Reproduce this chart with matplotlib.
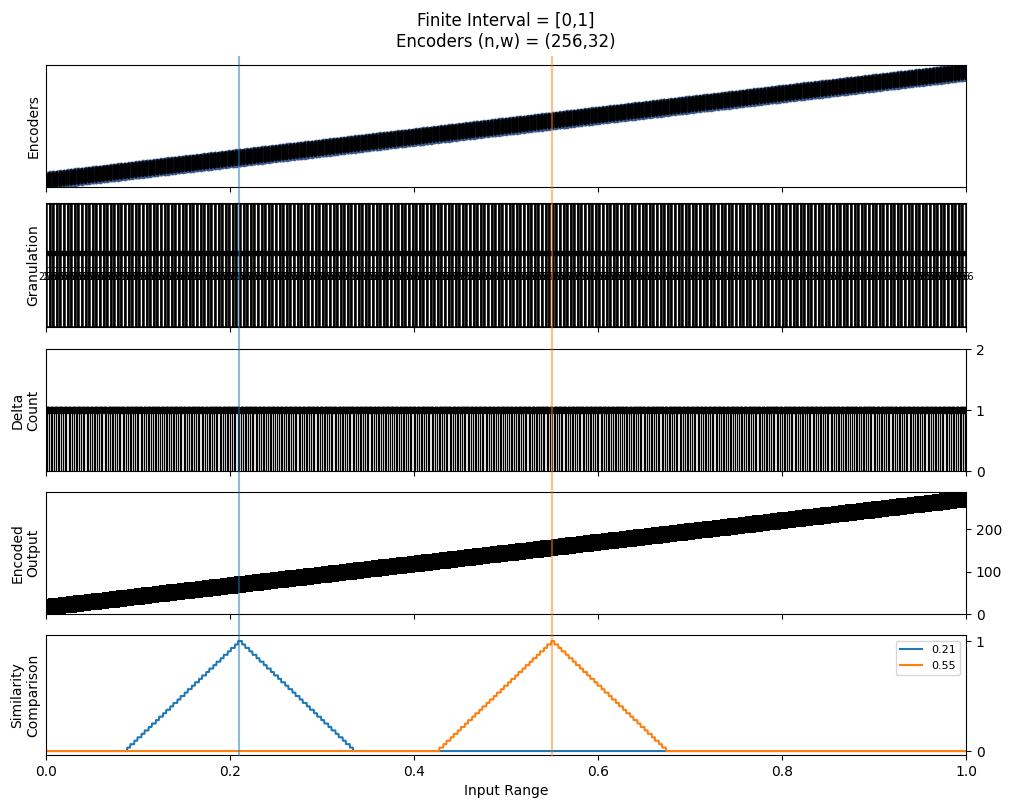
import numpy as np
import matplotlib
matplotlib.use("Agg")
import matplotlib.pyplot as plt
import matplotlib.transforms as mtransforms

# encoder parameters and probe inputs
n_bits = 256
w_bits = 32
interval = [0, 1]
probes = [0.21, 0.55]
probe_labels = ["0.21", "0.55"]
gran_label = "256"

# bucket starts of the finite-interval scalar encoder
buckets = np.arange(n_bits + 1)
bucket_x = buckets / n_bits
delta = np.ones(n_bits)

def encode(v):
    s = int(round((v - interval[0]) / (interval[1] - interval[0]) * n_bits))
    return np.arange(s, s + w_bits)

xs = np.linspace(0, 1, 2049)
starts = np.round(xs * n_bits)

W, H = 1011, 811
fig, axes = plt.subplots(5, 1, figsize=(W / 100, H / 100), dpi=100, sharex=True)
# panel boxes in pixels: (top, bottom)
boxes = [(65, 187), (203, 327), (349, 471), (492, 614), (635, 755)]
for a, (t, b) in zip(axes, boxes):
    a.set_position([46 / W, 1 - b / H, 920 / W, (b - t) / H])
fig.suptitle("Finite Interval = [0,1]\nEncoders (n,w) = (256,32)", fontsize=12, y=0.985)

ax = axes[0]
ex = np.repeat(bucket_x, w_bits)
ey = np.concatenate([encode(v) for v in bucket_x])
ax.scatter(ex, ey, s=12, marker="o", facecolor="#3b5a8e", edgecolor="#3b5a8e", linewidths=0.6)
ax.scatter(ex, ey, s=3, marker="o", facecolor="none", edgecolor="k", linewidths=0.5)
ax.set_ylim(0, n_bits + w_bits)
ax.set_yticks([])
ax.set_ylabel("Encoders")

ax = axes[1]
width = 1 / n_bits
ax.bar(bucket_x[:-1] + width / 2, np.ones(n_bits), width=width, facecolor="white", edgecolor="k", linewidth=1.8)
ax.plot(bucket_x[:-1] + width / 2, np.full(n_bits, 0.6), "s", color="k", ms=2.8)
ax.axhline(0.48, color="k", lw=0.5)
for xb in bucket_x[:-1]:
    ax.text(xb + width / 2, 0.4, gran_label, fontsize=7, ha="center", va="center")
ax.set_ylim(0, 1)
ax.set_yticks([])
ax.set_ylabel("Granulation")

ax = axes[2]
ax.bar(bucket_x[:-1] + width / 2, delta, width=width * 0.4, facecolor="white", edgecolor="k", linewidth=0.9)
ax.plot(bucket_x[:-1] + width / 2, delta, "o", color="k", ms=4.5)
ax.axhline(1.07, color="gray", ls="--", lw=0.6)
ax.set_ylim(0, 2)
ax.set_yticks([0, 1, 2])
ax.yaxis.tick_right()
ax.set_ylabel("Delta\nCount")

ax = axes[3]
ax.scatter(ex, ey, s=5, marker="s", color="k", linewidths=0)
ax.set_ylim(0, n_bits + w_bits)
ax.set_yticks([0, 100, 200])
ax.yaxis.tick_right()
ax.set_ylabel("Encoded\nOutput")

ax = axes[4]
for p, lab, c in zip(probes, probe_labels, ["C0", "C1"]):
    sp = round(p * n_bits)
    overlap = np.clip(w_bits - np.abs(starts - sp), 0, None) / w_bits
    ax.plot(xs, overlap, color=c, label=lab)
ax.set_ylim(-0.036, 1.055)
ax.set_yticks([0, 1])
ax.yaxis.tick_right()
ax.set_ylabel("Similarity\nComparison")
ax.legend(loc="upper right", fontsize=8)
ax.set_xlim(0, 1)
ax.set_xlabel("Input Range")

trans = mtransforms.blended_transform_factory(axes[4].transData, fig.transFigure)
for p, c in zip(probes, ["C0", "C1"]):
    fig.add_artist(plt.Line2D([p, p], [1 - 755 / H, 1 - 57 / H], transform=trans, color=c, alpha=0.5, lw=1.5))

fig.savefig("out.png", dpi=100)
